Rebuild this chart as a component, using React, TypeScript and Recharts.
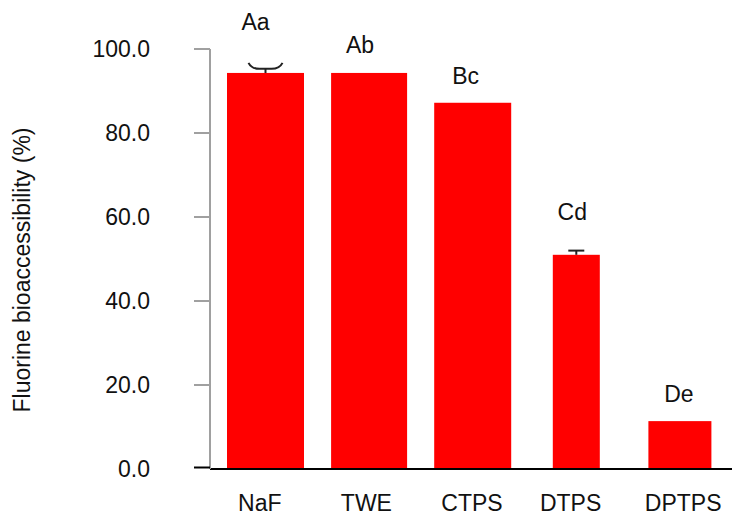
import React from 'react';
import { BarChart, Bar, XAxis, YAxis, LabelList, Label } from 'recharts';

const categories = ['NaF', 'TWE', 'CTPS', 'DTPS', 'DPTPS'];
const values = [94.3, 94.3, 87.2, 51.0, 11.4];
const errors = [2.4, 0, 0, 1.0, 0];
const letters = ['Aa', 'Ab', 'Bc', 'Cd', 'De'];
const yTicks = [0, 20, 40, 60, 80, 100];

// styling (per-bar widths, label and tick offsets)
const barWidths = [77, 76, 77, 47, 63];
const labelDx = [-10, -9, -7, -4, -1];
const labelGap = [43, 20, 19, 35, 19];
const tickDx = [-6, -3, -1, -6, 3];

const data = categories.map((c, i) => ({ name: c, value: values[i], err: errors[i], letter: letters[i] }));

const FONT = 'Liberation Sans, Arial, sans-serif';
const FS = 23;

const BarShape = (props: any) => {
  const { x, y, width, height, index, value } = props;
  const w = barWidths[index];
  const cx = x + width / 2;
  const err = errors[index];
  const v = Array.isArray(value) ? value[1] - value[0] : value;
  const px = v ? height / v : 0;
  const els: any[] = [<rect key="r" x={cx - w / 2} y={y} width={w} height={height} fill="#ff0000" />];
  if (err > 0) {
    const top = y - err * px;
    if (index === 0) {
      els.push(
        <path key="e" d={`M${cx},${y} L${cx},${top + 6} M${cx - 17},${top} Q${cx - 14},${top + 6} ${cx - 6},${top + 6} L${cx + 6},${top + 6} Q${cx + 14},${top + 6} ${cx + 17},${top}`} stroke="#222" strokeWidth={2} fill="none" />
      );
    } else {
      els.push(<line key="e1" x1={cx} y1={y} x2={cx} y2={top} stroke="#222" strokeWidth={2} />);
      els.push(<line key="e2" x1={cx - 8} y1={top} x2={cx + 8} y2={top} stroke="#222" strokeWidth={2} />);
    }
  }
  return <g>{els}</g>;
};

const LetterLabel = (props: any) => {
  const { x, y, width, index, value } = props;
  return (
    <text x={x + width / 2 + labelDx[index]} y={y - labelGap[index]} textAnchor="middle" fontFamily={FONT} fontSize={FS} fill="#111">
      {value}
    </text>
  );
};

const XTick = (props: any) => {
  const { x, y, payload, index } = props;
  return (
    <text x={x + tickDx[index]} y={y} dy={FS * 0.71} textAnchor="middle" fontFamily={FONT} fontSize={FS} fill="#111">
      {payload.value}
    </text>
  );
};

const YTick = (props: any) => {
  const { x, y, payload } = props;
  const isZero = payload.value === 0;
  return (
    <g>
      <line x1={x + 44} x2={x + 60} y1={isZero ? y - 1.5 : y} y2={isZero ? y - 1.5 : y} stroke={isZero ? '#000' : '#a0a0a0'} strokeWidth={2} />
      <text x={x} y={y} dy={FS * 0.35} textAnchor="end" fontFamily={FONT} fontSize={FS} fill="#111">
        {Number(payload.value).toFixed(1)}
      </text>
    </g>
  );
};

const YLabel = (props: any) => {
  const { viewBox } = props;
  const cy = viewBox.y + viewBox.height / 2 + 11;
  const x = 30;
  return (
    <text x={x} y={cy} transform={`rotate(-90, ${x}, ${cy})`} textAnchor="middle" fontFamily={FONT} fontSize={FS} fill="#111">
      Fluorine bioaccessibility (%)
    </text>
  );
};

export default function App() {
  return (
    <div style={{ position: 'absolute', left: 0, top: 0, width: 732, height: 515, background: '#fff' }}>
      <BarChart width={732} height={515} data={data} margin={{ top: 49, right: 0, bottom: 0, left: 0 }} barCategoryGap={0}>
        <XAxis
          dataKey="name"
          axisLine={{ stroke: '#000', strokeWidth: 2 }}
          tickLine={false}
          tickSize={6}
          tickMargin={20}
          height={46}
          padding={{ left: 4, right: 0 }}
          tick={<XTick />}
          interval={0}
        />
        <YAxis
          width={210}
          domain={[0, 100]}
          ticks={yTicks}
          interval={0}
          axisLine={{ stroke: '#a0a0a0', strokeWidth: 2 }}
          tickLine={false}
          tickSize={16}
          tickMargin={44}
          tick={<YTick />}
        >
          <Label content={<YLabel />} />
        </YAxis>
        <Bar dataKey="value" barSize={77} shape={<BarShape />} isAnimationActive={false}>
          <LabelList dataKey="letter" content={<LetterLabel />} />
        </Bar>
      </BarChart>
    </div>
  );
}
